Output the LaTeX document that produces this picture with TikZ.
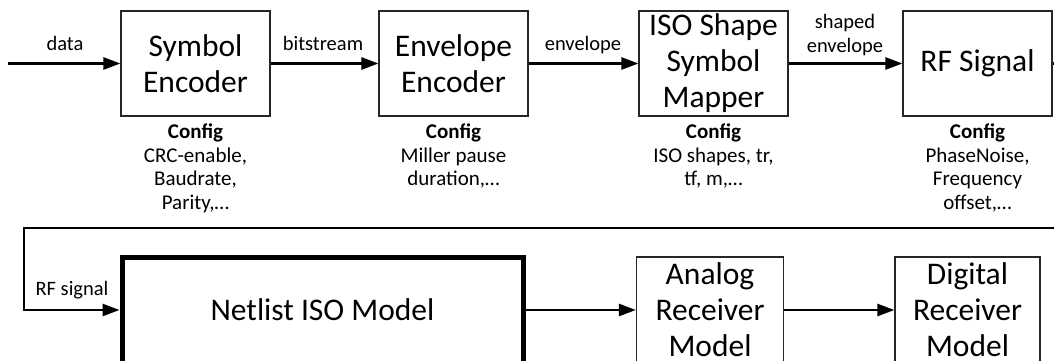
\documentclass[tikz,border=0pt]{standalone}
\usepackage{fontspec}
\setmainfont{Carlito}
\usetikzlibrary{arrows.meta}

\begin{document}
\begin{tikzpicture}[x=1pt,y=-1pt,
  blk/.style={draw=black!85, line width=1.2pt, minimum width=149pt, minimum height=105pt,
    inner sep=0pt, align=center, font=\fontsize{31.5}{36}\selectfont},
  cfg/.style={align=center, font=\fontsize{21}{23.5}\selectfont, anchor=north, inner sep=0pt},
  lbl/.style={font=\fontsize{20.5}{24}\selectfont, inner sep=0pt, anchor=base, align=center},
  wire/.style={line width=2.6pt, -{Triangle[length=17pt,width=12pt]}},
]
\useasboundingbox (0,0) rectangle (1054,361);
\clip (0,0) rectangle (1054,361);

% transmitter chain
\node[blk] (enc) at (195.5,63.5) {Symbol\\Encoder};
\node[blk] (env) at (453.5,63.5) {Envelope\\Encoder};
\node[blk] (iso) at (713.5,63.5) {ISO Shape\\Symbol\\Mapper};
\node[blk] (rf)  at (977.5,63.5) {RF Signal};

% configuration notes under each block
\node[cfg] (cenc) at (195.5,124) {\textbf{Config}\\CRC-enable,\\Baudrate,\\Parity,…};
\node[cfg] (cenv) at (453.5,124) {\textbf{Config}\\Miller pause\\duration,…};
\node[cfg] (ciso) at (713.5,124) {\textbf{Config}\\ISO shapes, tr,\\tf, m,…};
\node[cfg] (crf)  at (977.5,124) {\textbf{Config}\\PhaseNoise,\\Frequency\\offset,…};

% receiver chain
\node[blk, draw=black, line width=5pt, minimum width=401pt, minimum height=106pt] (net) at (322.5,310) {Netlist ISO Model};
\node[blk, minimum width=147pt, minimum height=106pt] (ana) at (710,310) {Analog\\Receiver\\Model};
\node[blk, minimum width=145pt, minimum height=106pt] (dig) at (967.5,310) {Digital\\Receiver\\Model};

% signal names
\node[lbl] (ldata) at (65,50.5) {data};
\node[lbl] (lbit)  at (323,50.5) {bitstream};
\node[lbl] (lenv)  at (583,50.5) {envelope};
\node[lbl, anchor=south] (lshp) at (845,56) {shaped\\envelope};
\node[lbl] (lrf)   at (72,295) {RF signal};

% connectors
\coordinate (in) at (8,63.5);
\coordinate (loopR) at (1064,228);
\coordinate (loopL) at (24,228);
\draw[wire] (in) -- (enc.west);
\draw[wire] (enc.east) -- (env.west);
\draw[wire] (env.east) -- (iso.west);
\draw[wire] (iso.east) -- (rf.west);
\draw[wire] (rf.east) -| (loopR) -- (loopL) |- (net.west);
\draw[wire] (net.east) -- (ana.west);
\draw[wire] (ana.east) -- (dig.west);
\end{tikzpicture}
\end{document}
